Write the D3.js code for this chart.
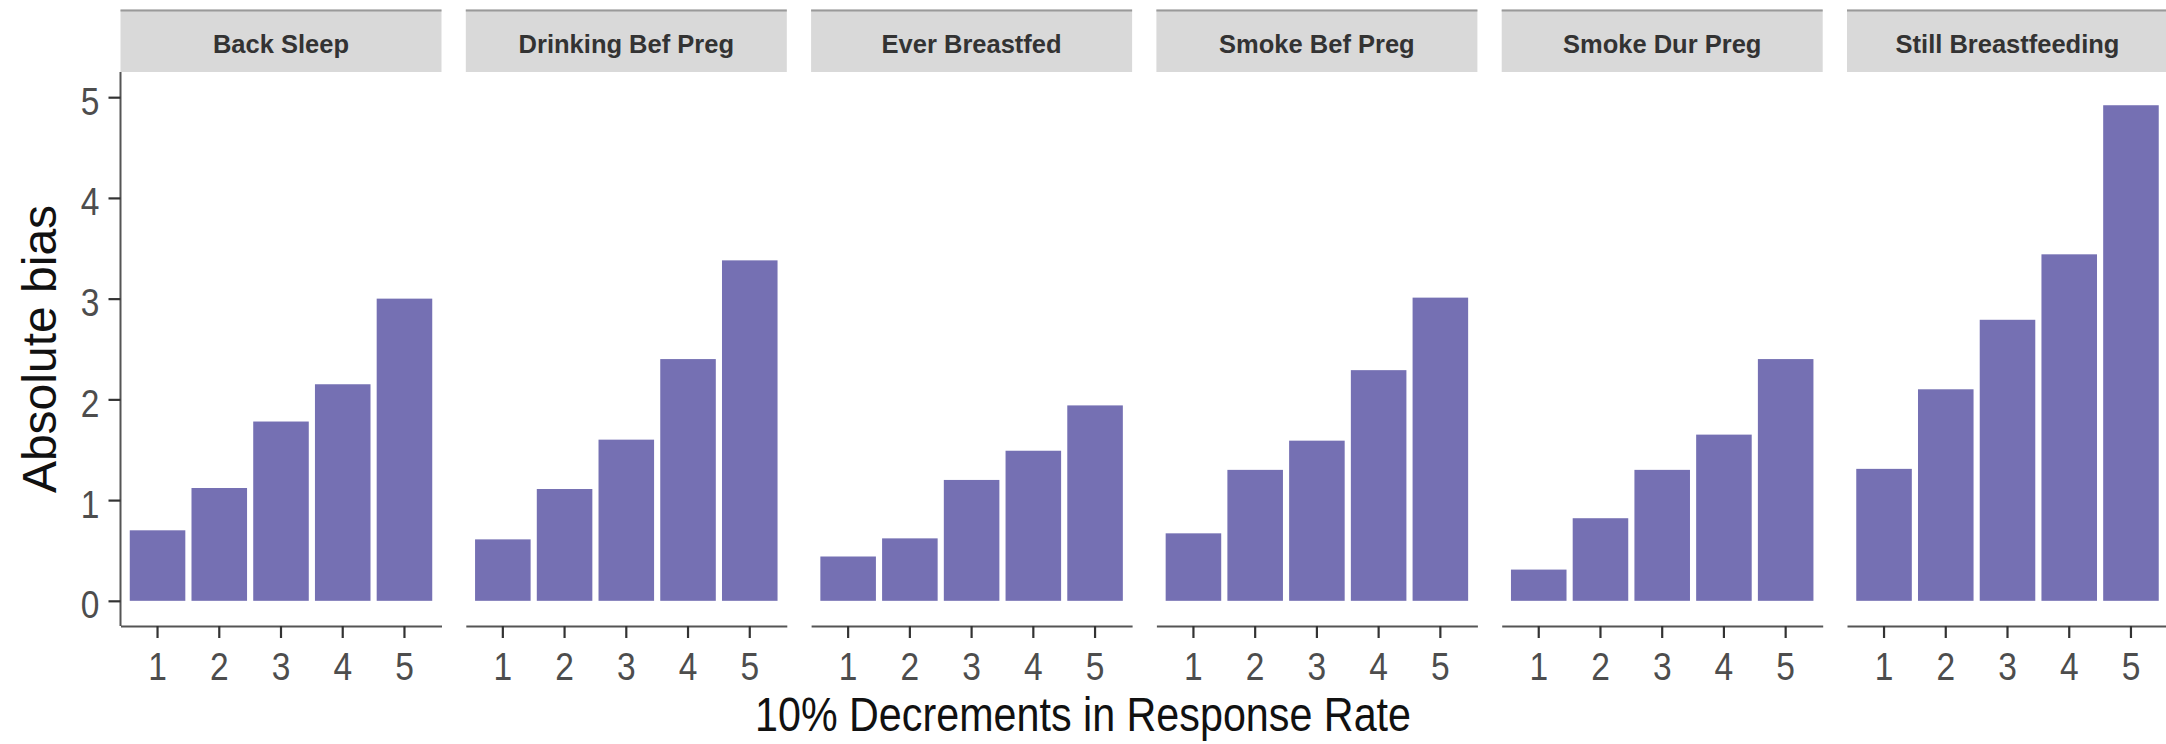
<!DOCTYPE html>
<html>
<head>
<meta charset="utf-8">
<script src="https://cdn.jsdelivr.net/npm/d3@7"></script>
<style>
  html, body { margin: 0; padding: 0; background: #fff; }
  svg { display: block; }
  text { font-family: "Liberation Sans", Arial, sans-serif; }
</style>
</head>
<body>
<div id="chart"></div>
<script>
// Facet labels, x categories and absolute bias per facet
const categories = ["Back Sleep", "Drinking Bef Preg", "Ever Breastfed", "Smoke Bef Preg", "Smoke Dur Preg", "Still Breastfeeding"];
const decrements = ["1", "2", "3", "4", "5"];
const backSleep = [0.70, 1.12, 1.78, 2.15, 3.00];
const drinkingBefPreg = [0.61, 1.11, 1.60, 2.40, 3.38];
const everBreastfed = [0.44, 0.62, 1.20, 1.49, 1.94];
const smokeBefPreg = [0.67, 1.30, 1.59, 2.29, 3.01];
const smokeDurPreg = [0.31, 0.82, 1.30, 1.65, 2.40];
const stillBreastfeeding = [1.31, 2.10, 2.79, 3.44, 4.92];
const yTicks = [0, 1, 2, 3, 4, 5];

const seriesByFacet = [backSleep, drinkingBefPreg, everBreastfed, smokeBefPreg, smokeDurPreg, stillBreastfeeding];

const W = 2166, H = 744;
const panelLeft = 120.5, panelW = 321, panelStep = 345.3;
const stripTop = 9.5, stripBottom = 72, panelBottom = 626;
const narrow = 0.86;          // horizontal squeeze for axis text
const tickFont = 39;

const svg = d3.select("#chart").append("svg")
  .attr("width", W).attr("height", H);

const y = d3.scaleLinear().domain([-0.25, 5.25]).range([panelBottom, stripBottom]);
const x = d3.scaleBand().domain(decrements).range([0, panelW])
  .paddingInner(0.1).paddingOuter(0.15);

const barColor = "#7570b3";

categories.forEach((cat, i) => {
  const g = svg.append("g").attr("transform", `translate(${panelLeft + i * panelStep},0)`);

  // facet strip
  g.append("rect").attr("x", 0).attr("y", stripTop).attr("width", panelW)
    .attr("height", stripBottom - stripTop).attr("fill", "#d9d9d9");
  g.append("line").attr("x1", 0).attr("x2", panelW).attr("y1", stripTop + 1).attr("y2", stripTop + 1)
    .attr("stroke", "#9a9a9a").attr("stroke-width", 2);
  g.append("text").attr("x", panelW / 2).attr("y", 53)
    .attr("text-anchor", "middle").attr("font-size", 25.5).attr("font-weight", "bold")
    .attr("fill", "#333").text(cat);

  // bars
  const vals = seriesByFacet[i];
  g.selectAll("rect.bar").data(decrements.map((d, k) => ({ d, v: vals[k] })))
    .join("rect").attr("class", "bar")
    .attr("x", d => x(d.d)).attr("width", x.bandwidth())
    .attr("y", d => y(d.v)).attr("height", d => y(0) - y(d.v))
    .attr("fill", barColor);

  // x axis
  const xa = g.append("g").attr("transform", `translate(0,${panelBottom})`)
    .call(d3.axisBottom(x).tickSize(12).tickPadding(0).tickSizeOuter(0));
  xa.select(".domain").attr("stroke", "#555").attr("stroke-width", 2);
  xa.selectAll(".tick line").attr("stroke", "#333").attr("stroke-width", 2.2);
  xa.selectAll(".tick text").attr("font-size", tickFont).attr("fill", "#4d4d4d")
    .attr("font-family", "Liberation Sans, Arial, sans-serif")
    .attr("dy", null).attr("y", 54)
    .attr("transform", `scale(${narrow},1)`);

  if (i === 0) {
    const ya = g.append("g")
      .call(d3.axisLeft(y).tickValues(yTicks).tickFormat(d3.format("d")).tickSize(12).tickPadding(8).tickSizeOuter(0));
    ya.select(".domain").attr("stroke", "#555").attr("stroke-width", 2)
      .attr("d", `M0,${stripBottom}V${panelBottom}`);
    ya.selectAll(".tick line").attr("stroke", "#333").attr("stroke-width", 2.2);
    ya.selectAll(".tick text").attr("font-size", tickFont).attr("fill", "#4d4d4d")
      .attr("font-family", "Liberation Sans, Arial, sans-serif")
      .attr("x", -21 / narrow).attr("dy", null).attr("y", 17)
      .attr("transform", `scale(${narrow},1)`);
  }
});

// axis titles
svg.append("text")
  .attr("transform", `translate(1083,731) scale(${narrow},1)`)
  .attr("text-anchor", "middle").attr("font-size", 48).attr("fill", "#111")
  .text("10% Decrements in Response Rate");

svg.append("text")
  .attr("transform", "translate(56,349) rotate(-90)")
  .attr("text-anchor", "middle").attr("font-size", 48).attr("fill", "#111")
  .text("Absolute bias");
</script>
</body>
</html>
